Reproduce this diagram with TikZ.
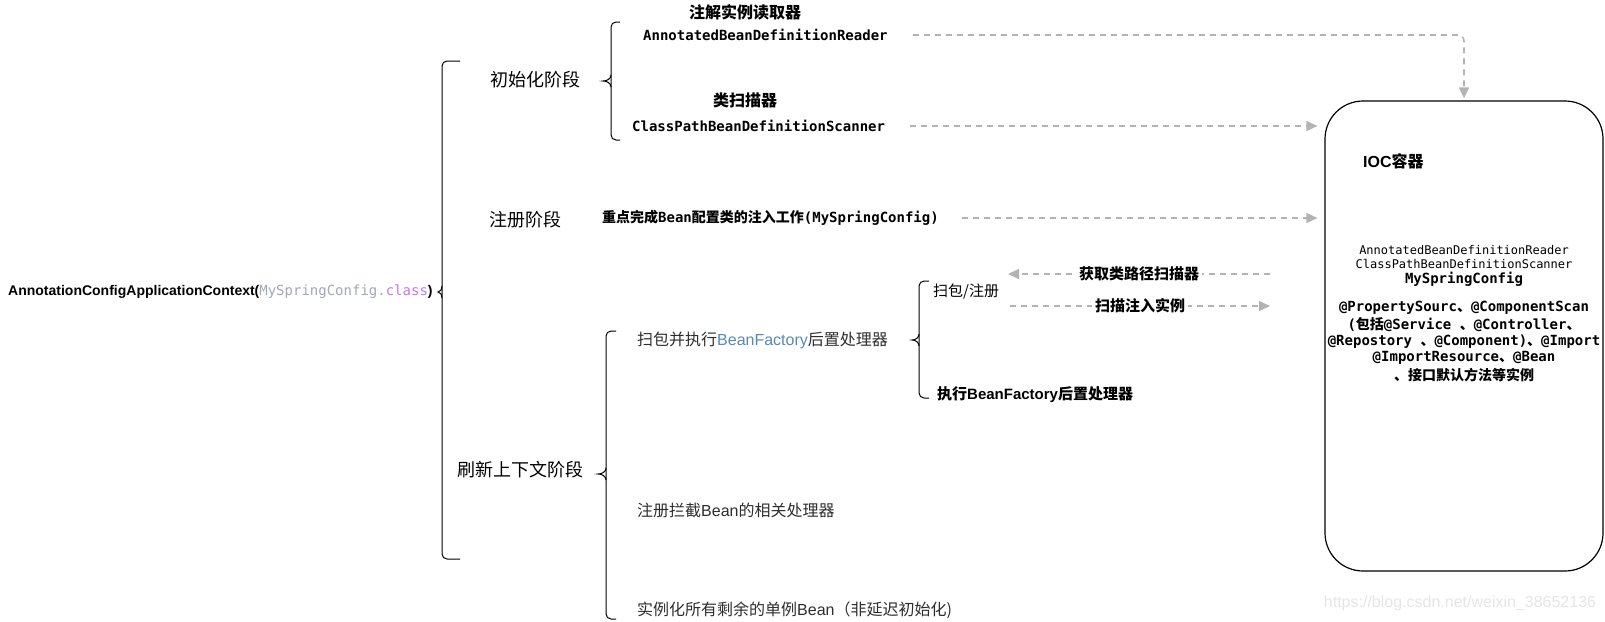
\documentclass[tikz,border=0pt]{standalone}
\usepackage{fontspec}
\setmainfont{Liberation Sans}
\setmonofont{DejaVu Sans Mono}
\newfontfamily\cjk{Noto Sans CJK SC}
\usetikzlibrary{arrows.meta}

\definecolor{arrgray}{RGB}{179,179,179}
\definecolor{cfggray}{RGB}{160,168,184}
\definecolor{kwpurple}{RGB}{200,120,221}
\definecolor{bfblue}{RGB}{88,138,178}
\definecolor{txtgray}{RGB}{45,45,45}
\newcommand{\zh}[1]{{\cjk #1}}

\begin{document}
\begin{tikzpicture}[
		x=1pt, y=-1pt,
		every node/.style = {inner sep=0pt},
		stage/.style = {anchor=west, font=\cjk\fontsize{18}{20}\selectfont},
		ttl/.style   = {font=\cjk\bfseries\fontsize{16}{18}\selectfont},
		cls/.style   = {anchor=west, font=\ttfamily\bfseries\fontsize{14}{16}\selectfont},
		sub/.style   = {anchor=west, text=txtgray, font=\fontsize{16}{18}\selectfont},
		sml/.style   = {anchor=west, font=\bfseries\fontsize{15}{17}\selectfont},
		bxt/.style   = {font=\ttfamily\bfseries\fontsize{14}{16}\selectfont},
		lbl/.style   = {fill=white, inner xsep=3pt, font=\cjk\bfseries\fontsize{15}{17}\selectfont},
		dsh/.style   = {draw=arrgray, line width=1.6pt, dash pattern=on 6pt off 5pt,
			-{Triangle[length=11pt, width=10pt]}},
		brc/.style   = {line width=1pt, rounded corners=5pt}
		]
		\useasboundingbox (0,0) rectangle (1605,621);
		
		% Constructor call
		\node[anchor=west, font=\bfseries\fontsize{14}{16}\selectfont] (ctx) at (8,292)
			{AnnotationConfigApplicationContext(\textcolor{cfggray}{\ttfamily\mdseries MySpringConfig.}\textcolor{kwpurple}{\ttfamily\mdseries class})};
		
		% Braces: x / top / tip / bottom / arm / tip length
		\foreach \bx/\bt/\bm/\bb/\ba/\bk in {442/61/292/559/18/4, 611/22/81/140/9/8, 606/331/474/619/10/8, 919/281/340/398/10/7} {
			\draw[brc] (\bx+\ba,\bt) -- (\bx,\bt) -- (\bx,\bb) -- (\bx+\ba,\bb);
			\draw[line width=1pt] (\bx,\bm-6) to[out=-90, in=0] (\bx-\bk,\bm) to[out=0, in=90] (\bx,\bm+6);
		}
		
		% Stages
		\node[stage] (init) at (490,80) {初始化阶段};
		\node[stage] (reg) at (489,220) {注册阶段};
		\node[stage] (refresh) at (457,470) {刷新上下文阶段};
		
		% Init stage
		\node[ttl] (rdrttl) at (745,12) {注解实例读取器};
		\node[cls] (rdr) at (643,35) {AnnotatedBeanDefinitionReader};
		\node[ttl] (scnttl) at (745,100) {类扫描器};
		\node[cls] (scn) at (632,126) {ClassPathBeanDefinitionScanner};
		
		% Register stage
		\node[cls] (regt) at (602,218) {\zh{重点完成}Bean\zh{配置类的注入工作}(MySpringConfig)};
		
		% Refresh stage
		\node[sub] (scanexec) at (637,340) {\zh{扫包并执行}\textcolor{bfblue}{BeanFactory}\zh{后置处理器}};
		\node[sub] (intercept) at (637,510) {\zh{注册拦截}Bean\zh{的相关处理器}};
		\node[sub] (inst) at (637,610) {\zh{实例化所有剩余的单例}Bean\zh{（非延迟初始化)}};
		\node[sml, font=\cjk\fontsize{15}{17}\selectfont] (scanreg) at (933,292) {扫包/注册};
		\node[sml] (exec) at (937,395) {\zh{执行}BeanFactory\zh{后置处理器}};
		
		% IOC container
		\node[draw, line width=1.2pt, rounded corners=38pt, minimum width=278pt, minimum height=470pt] (ioc) at (1464,336) {};
		\node[anchor=west, font=\bfseries\fontsize{16}{18}\selectfont] (iocttl) at (1363,161) {IOC\zh{容器}};
		\node[font=\ttfamily\fontsize{12}{14}\selectfont] (rdr2) at (1464,250) {AnnotatedBeanDefinitionReader};
		\node[font=\ttfamily\fontsize{12}{14}\selectfont] (scn2) at (1464,264) {ClassPathBeanDefinitionScanner};
		\node[bxt] (cfg) at (1464,279) {MySpringConfig};
		\node[bxt] (an1) at (1464,308) {@PropertySourc\zh{、}@ComponentScan};
		\node[bxt] (an2) at (1464,325) {(\zh{包括}@Service \zh{、}@Controller\zh{、}};
		\node[bxt] (an3) at (1464,342) {@Repostory \zh{、}@Component)\zh{、}@Import};
		\node[bxt] (an4) at (1464,358) {@ImportResource\zh{、}@Bean};
		\node[bxt] (an5) at (1464,375) {\zh{、接口默认方法等实例}};
		
		% Dashed connectors
		\draw[dsh, rounded corners=6pt, shorten <=25pt, shorten >=2pt] (rdr) -| (ioc.north);
		\draw[dsh, shorten <=25pt, shorten >=7pt] (scn) -- (scn -| ioc.west);
		\draw[dsh, shorten <=23pt, shorten >=7pt] (regt) -- (regt -| ioc.west);
		
		\coordinate (fetchR) at (1270,274);
		\coordinate (fetchL) at (1008,274);
		\draw[dsh] (fetchR) -- node[lbl] (fetch) {获取类路径扫描器} (fetchL);
		\coordinate (injL) at (1010,306);
		\coordinate (injR) at (1270,306);
		\draw[dsh] (injL) -- node[lbl] (inject) {扫描注入实例} (injR);
		
		% Watermark
		\node[text=black!10, font=\fontsize{16}{18}\selectfont] (wm) at (1460,603) {https://blog.csdn.net/weixin\_38652136};
	\end{tikzpicture}
\end{document}
